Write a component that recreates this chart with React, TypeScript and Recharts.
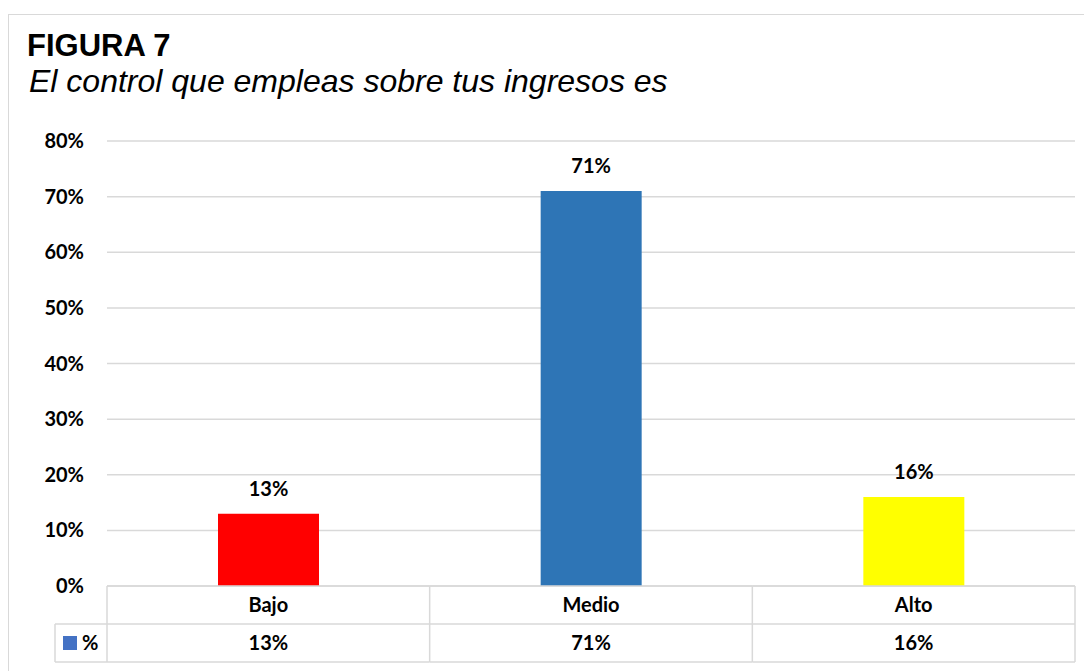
import React from 'react';
import { BarChart, Bar, XAxis, YAxis, CartesianGrid, LabelList, Cell } from 'recharts';

const categories = ['Bajo', 'Medio', 'Alto'];
const values = [13, 71, 16];
const yTicks = [0, 10, 20, 30, 40, 50, 60, 70, 80];
const seriesName = '%';
const title = 'FIGURA 7';
const subtitle = 'El control que empleas sobre tus ingresos es';

const barColors = ['#FF0000', '#2E75B6', '#FFFF00'];
const legendColor = '#4472C4';
const lineColor = '#D9D9D9';
const FONT = 'Lato, "Open Sans", sans-serif';
const FS = 20;

const W = 1084;
const H = 663;
const MARGIN = { top: 133, right: 17, bottom: 8, left: 0 };
const YAXIS_W = 99;
const XAXIS_H = 77;
const PLOT_LEFT = MARGIN.left + YAXIS_W;
const PLOT_RIGHT = W - MARGIN.right;
const PLOT_BOTTOM = H - MARGIN.bottom - XAXIS_H;
const BAND = (PLOT_RIGHT - PLOT_LEFT) / categories.length;
const ROW_H = 38;
const LEGEND_LEFT = 47;

const data = categories.map((c, i) => ({ name: c, value: values[i] }));

const TableTick = (props: any) => {
  const { payload, index } = props;
  const cx = payload.coordinate;
  const left = cx - BAND / 2;
  const right = cx + BAND / 2;
  const y0 = PLOT_BOTTOM;
  const y1 = y0 + ROW_H;
  const y2 = y1 + ROW_H;
  const v = values[index];
  return (
    <g>
      <line x1={left} y1={y0} x2={right} y2={y0} stroke={lineColor} strokeWidth={1.5} />
      <line x1={left} y1={y1} x2={right} y2={y1} stroke={lineColor} strokeWidth={1.5} />
      <line x1={left} y1={y2} x2={right} y2={y2} stroke={lineColor} strokeWidth={1.5} />
      <line x1={right} y1={y0} x2={right} y2={y2} stroke={lineColor} strokeWidth={1.5} />
      {index === 0 && (
        <g>
          <line x1={left} y1={y0} x2={left} y2={y2} stroke={lineColor} strokeWidth={1.5} />
          <line x1={LEGEND_LEFT} y1={y1} x2={left} y2={y1} stroke={lineColor} strokeWidth={1.5} />
          <line x1={LEGEND_LEFT} y1={y2} x2={left} y2={y2} stroke={lineColor} strokeWidth={1.5} />
          <line x1={LEGEND_LEFT} y1={y1} x2={LEGEND_LEFT} y2={y2} stroke={lineColor} strokeWidth={1.5} />
          <rect x={LEGEND_LEFT + 8} y={y1 + 12} width={14} height={14} fill={legendColor} />
          <text x={LEGEND_LEFT + 27} y={y1 + 26} textAnchor="start" fontFamily={FONT} fontWeight={700} fontSize={FS} fill="#000">
            {seriesName}
          </text>
        </g>
      )}
      <text x={cx} y={y0 + 26} textAnchor="middle" fontFamily={FONT} fontWeight={700} fontSize={FS} fill="#000">
        {payload.value}
      </text>
      <text x={cx} y={y1 + 26} textAnchor="middle" fontFamily={FONT} fontWeight={700} fontSize={FS} fill="#000">
        {`${v}%`}
      </text>
    </g>
  );
};

export default function App() {
  return (
    <div style={{ position: 'relative', width: W, height: H, overflow: 'hidden', background: '#fff' }}>
      <div
        style={{
          position: 'absolute',
          left: 0,
          top: 6,
          width: W + 40,
          height: H + 40,
          border: `1px solid ${lineColor}`,
          boxSizing: 'border-box',
        }}
      />
      <div
        style={{
          position: 'absolute',
          left: 19,
          top: 22,
          fontFamily: '"Liberation Sans", Arial, sans-serif',
          fontWeight: 700,
          fontSize: 31,
          lineHeight: '31px',
          color: '#000',
          whiteSpace: 'nowrap',
        }}
      >
        {title}
      </div>
      <div
        style={{
          position: 'absolute',
          left: 21,
          top: 58,
          fontFamily: '"Liberation Sans", Arial, sans-serif',
          fontStyle: 'italic',
          fontSize: 32,
          lineHeight: '31px',
          color: '#000',
          whiteSpace: 'nowrap',
        }}
      >
        {subtitle}
      </div>
      <div style={{ position: 'absolute', left: 0, top: 0 }}>
        <BarChart width={W} height={H} data={data} margin={MARGIN} barSize={101}>
          <CartesianGrid vertical={false} stroke={lineColor} strokeWidth={1.5} />
          <YAxis
            width={YAXIS_W}
            domain={[0, 80]}
            ticks={yTicks}
            interval={0}
            axisLine={false}
            tickLine={false}
            tickSize={0}
            tickMargin={23}
            tickFormatter={(v: number) => `${v}%`}
            tick={{ fontFamily: FONT, fontWeight: 700, fontSize: FS, fill: '#000' }}
          />
          <XAxis
            dataKey="name"
            height={XAXIS_H}
            axisLine={false}
            tickLine={false}
            interval={0}
            tick={<TableTick />}
          />
          <Bar dataKey="value" name={seriesName} isAnimationActive={false}>
            {data.map((d, i) => (
              <Cell key={d.name} fill={barColors[i]} />
            ))}
            <LabelList
              dataKey="value"
              position="top"
              offset={18}
              formatter={(v: number) => `${v}%`}
              style={{ fontFamily: FONT, fontWeight: 700, fontSize: FS, fill: '#000' }}
            />
          </Bar>
        </BarChart>
      </div>
    </div>
  );
}
